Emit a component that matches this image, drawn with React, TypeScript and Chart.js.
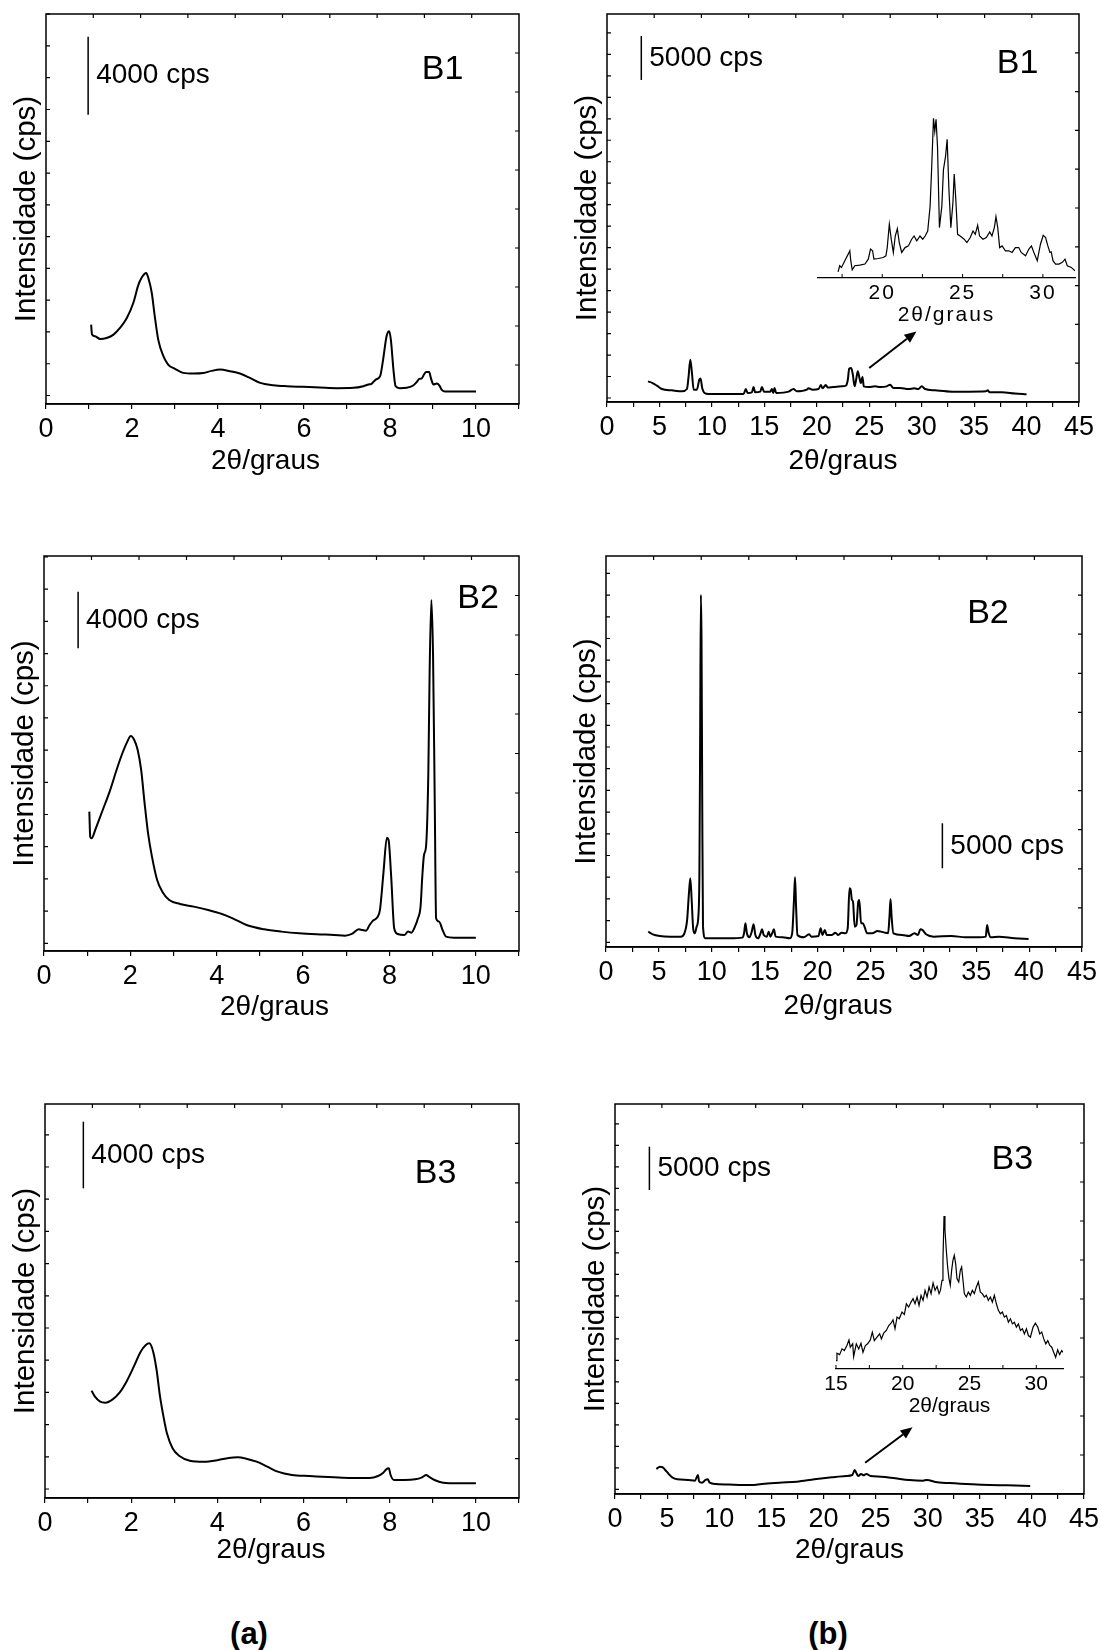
import React, { useEffect, useRef } from "react";
import { Chart, registerables } from "chart.js";

Chart.register(...registerables);

const FONT = '"Liberation Sans", Arial, Helvetica, sans-serif';

// ---------------- axis tick values ----------------
const A_X_MAJOR = [0, 2, 4, 6, 8, 10];
const A_X_MINOR = [1, 3, 5, 7, 9, 11];
const B_X_MAJOR = [0, 5, 10, 15, 20, 25, 30, 35, 40, 45];
const B_X_MINOR = [2.5, 7.5, 12.5, 17.5, 22.5, 27.5, 32.5, 37.5, 42.5];
const INSET1_MAJOR = [20, 25, 30];
const INSET3_MAJOR = [15, 20, 25, 30];
const INSET_MINOR = [17.5, 22.5, 27.5];

const X_TITLE = "2θ/graus";
const Y_TITLE = "Intensidade (cps)";

// ---------------- series (2θ in degrees, intensity in cps) ----------------
const A1_X = [1.05,1.07,1.14,1.26,1.41,1.57,1.72,1.88,2.03,2.15,2.22,2.33,2.38,2.46,2.53,2.61,2.73,2.84,3.0,3.19,3.43,3.66,3.85,4.05,4.28,4.51,4.74,4.98,5.29,5.6,5.98,6.37,6.76,7.15,7.38,7.5,7.57,7.67,7.77,7.84,7.92,7.98,8.02,8.08,8.13,8.23,8.39,8.54,8.62,8.68,8.74,8.79,8.84,8.91,8.95,9.01,9.09,9.15,9.2,9.28,9.63,10.0];
const A1_Y = [3627,3117,3031,2895,2946,3117,3457,3968,4734,5671,6012,6267,6012,5245,4053,2861,2010,1584,1362,1158,1124,1150,1260,1328,1243,1124,903,647,528,477,443,409,375,392,477,562,600,817,988,1839,3031,3287,2861,1328,477,375,392,511,681,851,880,1073,1209,1209,903,562,613,511,307,204,204,204];

const B1_X = [3.91,4.35,4.76,5.24,6.19,7.15,7.62,7.78,7.94,8.1,8.26,8.57,8.8,8.92,9.08,9.3,9.69,11.27,13.02,13.24,13.4,13.81,13.97,14.13,14.61,14.77,14.96,15.56,15.72,15.85,15.97,16.13,17.31,17.78,18.1,19.05,19.21,19.6,20.17,20.39,20.55,20.86,21.05,21.59,22.39,22.77,22.96,23.09,23.28,23.44,23.6,23.75,23.91,24.07,24.2,24.36,24.48,24.93,25.56,26.04,26.67,26.99,27.31,27.95,28.74,29.31,29.69,30.01,30.33,31.28,32.87,34.46,36.14,36.3,36.46,37.63,38.9,40.0];
const B1_Y = [1890,1700,1400,1020,870,760,1020,2460,4355,2840,950,950,2080,2230,1100,570,455,455,455,1020,570,640,1250,640,720,1250,720,720,1020,570,1135,570,720,1020,760,950,1100,950,1020,1480,1100,1480,1180,1250,1325,1400,2080,3330,3410,2650,1325,2080,3030,2270,1700,2390,1325,1250,1325,1250,1325,1515,1140,1140,1020,1100,1020,1325,1020,870,720,720,760,870,650,650,500,417];

const B1_INSET_X = [17.25,17.35,17.46,17.67,17.88,17.98,18.04,18.13,18.29,18.6,18.92,19.13,19.27,19.4,19.48,19.75,20.06,20.23,20.31,20.44,20.56,20.69,20.81,20.94,21.06,21.21,21.42,21.63,21.83,21.98,22.15,22.35,22.52,22.67,22.83,22.98,23.08,23.19,23.27,23.35,23.44,23.56,23.71,23.81,23.94,24.04,24.15,24.27,24.4,24.48,24.58,24.69,24.85,25.1,25.27,25.48,25.65,25.79,25.94,26.06,26.27,26.48,26.69,26.83,26.98,27.08,27.19,27.31,27.46,27.67,27.88,28.08,28.29,28.5,28.65,28.92,29.13,29.29,29.44,29.65,29.85,30.02,30.17,30.31,30.44,30.52,30.63,30.79,31.0,31.21,31.38,31.52,31.77,32.0];
const B1_INSET_Y = [3.7,7.3,6.3,10.3,14.2,16.2,10.3,4.9,7.3,7.7,8.3,11.2,17.2,16.2,11.2,11.6,12.2,13.2,18.1,32.0,23.1,15.2,25.0,29.4,21.1,15.2,18.1,19.1,23.1,25.0,22.1,25.0,23.1,25.0,28.0,42.8,66.5,95.1,87.2,94.5,78.3,30.0,42.8,64.5,72.4,82.6,52.7,30.0,44.8,61.9,46.7,26.0,25.0,23.1,21.1,24.1,28.0,26.0,31.4,25.0,23.1,24.1,27.4,25.0,30.0,36.5,30.0,18.1,19.1,16.2,16.2,15.2,18.1,18.1,15.2,13.2,17.2,19.1,15.2,10.3,20.1,25.4,24.1,19.1,15.2,15.6,10.3,8.3,8.3,9.3,11.2,7.3,6.3,4.3];

const A2_X = [1.05,1.07,1.1,1.2,1.36,1.52,1.68,1.8,1.93,2.01,2.09,2.17,2.25,2.33,2.41,2.5,2.62,2.74,2.9,3.15,3.47,3.8,4.12,4.37,4.69,5.1,5.5,5.91,6.32,6.72,6.97,7.13,7.29,7.37,7.46,7.54,7.62,7.72,7.78,7.86,7.94,7.98,8.04,8.11,8.19,8.35,8.43,8.51,8.59,8.66,8.72,8.76,8.8,8.85,8.9,8.93,8.97,9.01,9.05,9.08,9.15,9.23,9.31,9.49,10.0];
const A2_Y = [9294,7530,7412,8118,9412,10706,12236,13294,14236,14636,14353,13647,12236,9883,7765,6118,4471,3647,3059,2777,2588,2353,2071,1765,1294,988,824,706,635,588,541,659,988,941,894,1294,1600,1835,2353,4941,7459,7294,4706,1059,659,588,824,753,1176,1765,2588,4706,6235,6941,12000,19059,24236,20236,9647,1765,1529,941,471,400,400];

const B2_X = [3.99,4.42,5.08,6.08,7.07,7.41,7.67,7.84,7.97,8.1,8.24,8.4,8.57,8.73,8.83,8.9,8.97,9.03,9.1,9.17,9.4,10.4,11.72,12.89,13.05,13.18,13.32,13.55,13.78,13.95,14.12,14.38,14.61,14.75,14.91,15.21,15.38,15.54,15.71,15.87,16.04,16.71,17.37,17.6,17.77,17.87,17.97,18.1,18.7,19.2,19.43,20.09,20.29,20.46,20.69,20.86,21.36,21.69,21.95,22.28,22.62,22.85,23.02,23.12,23.25,23.35,23.51,23.68,23.85,23.95,24.11,24.28,24.44,24.68,25.17,25.67,26.0,26.34,26.67,26.8,26.9,27.0,27.17,28.0,28.66,29.16,29.49,29.72,29.92,30.26,30.99,32.65,33.98,35.3,35.9,36.03,36.17,36.37,37.13,38.63,39.95];
const B2_Y = [1185,889,704,630,630,1000,2482,5444,7111,4704,1556,1000,1741,2852,7667,22480,38600,33600,15075,1741,444,444,444,519,1000,2111,1000,556,1185,2000,815,444,1000,1444,815,630,1185,630,1000,1444,630,556,444,1000,4704,7222,3963,815,556,889,630,704,1556,815,1370,815,815,1074,815,1074,1000,1556,6000,5889,4704,4519,1741,1926,4519,4704,2111,2111,1741,1000,1000,1259,1185,1074,1000,2852,4815,2852,1000,815,704,1000,815,1444,1370,889,630,704,556,556,630,1926,1074,556,630,444,370];

const A3_X = [1.08,1.16,1.28,1.4,1.57,1.73,1.89,2.06,2.22,2.34,2.42,2.51,2.59,2.67,2.75,2.83,2.96,3.12,3.36,3.69,4.02,4.26,4.47,4.67,4.91,5.16,5.4,5.73,6.14,6.71,7.12,7.53,7.73,7.85,7.92,7.98,8.02,8.1,8.34,8.59,8.75,8.85,8.91,9.04,9.24,9.57,10.0];
const A3_Y = [5900,5540,5240,5180,5380,5780,6440,7340,8240,8640,8740,8240,7140,5540,4340,3340,2440,1980,1700,1640,1740,1860,1900,1820,1640,1340,1040,840,780,700,660,660,780,980,1180,1240,840,540,540,580,700,840,740,540,380,340,340];

const B3_X = [3.97,4.31,4.58,4.82,5.15,5.49,5.99,7.0,7.68,7.95,8.08,8.35,8.69,8.89,9.09,9.7,11.38,13.07,14.08,15.76,17.45,19.13,20.81,22.16,22.77,23.0,23.17,23.34,23.61,23.85,24.12,24.52,25.53,26.88,28.22,29.57,29.9,30.92,32.6,34.29,35.97,37.66,39.84];
const B3_Y = [2347,2616,2539,2231,1770,1385,1154,1077,1000,1654,885,769,1077,1154,769,615,539,500,615,769,885,1154,1385,1539,1654,2231,1847,1539,1770,1616,1770,1539,1462,1270,1077,1000,1077,808,692,577,500,462,385];

const B3_INSET_X = [15.0,15.07,15.27,15.45,15.62,15.82,15.97,16.07,16.25,16.32,16.52,16.7,16.87,17.02,17.2,17.37,17.57,17.72,17.87,18.07,18.27,18.4,18.57,18.77,18.95,19.12,19.27,19.42,19.57,19.74,19.94,20.12,20.27,20.44,20.62,20.77,20.92,21.07,21.22,21.37,21.52,21.67,21.82,21.97,22.12,22.27,22.42,22.57,22.72,22.82,22.94,23.01,23.09,23.16,23.26,23.36,23.46,23.56,23.66,23.76,23.86,23.96,24.06,24.19,24.31,24.41,24.51,24.61,24.76,24.91,25.06,25.21,25.36,25.51,25.66,25.81,25.96,26.11,26.26,26.41,26.56,26.71,26.86,27.01,27.16,27.31,27.46,27.61,27.76,27.91,28.06,28.21,28.36,28.51,28.66,28.81,28.96,29.11,29.26,29.41,29.56,29.76,29.93,30.11,30.26,30.41,30.56,30.71,30.86,31.01,31.16,31.3,31.45,31.6,31.75,31.9,32.0];
const B3_INSET_Y = [5.0,9.3,8.5,11.9,10.9,13.9,17.2,12.9,14.9,7.3,14.9,11.9,15.2,9.9,13.9,14.9,17.2,21.8,16.8,18.8,20.8,17.8,21.2,22.8,25.7,27.1,29.1,23.8,30.7,29.7,33.7,32.3,38.6,36.6,39.6,41.6,38.6,42.6,37.6,43.6,40.6,46.5,42.6,48.5,44.6,50.9,46.5,48.9,44.6,46.5,52.5,64.4,90.5,82.2,70.3,60.4,53.5,49.5,58.4,64.4,67.3,62.4,53.5,51.5,58.4,60.4,52.5,44.6,42.6,45.5,43.6,46.5,44.6,48.5,51.5,45.5,44.6,42.6,43.6,40.6,42.6,39.6,43.6,38.6,34.7,32.7,33.7,30.7,31.7,27.7,29.7,26.7,27.7,24.8,26.7,22.8,23.8,20.8,23.8,19.8,18.8,24.8,27.1,24.8,20.8,21.8,17.8,14.9,16.8,13.9,12.9,9.9,6.9,11.3,8.5,10.9,9.9];

// ---------------- panel layout ----------------
type Ann = { x: number; y0: number; y1: number; text: string };
type Tag = { x: number; y: number; text: string };
type Arrow = { x0: number; y0: number; x1: number; y1: number };
type PanelDef = {
  key: string; L: number; T: number; R: number; B: number;
  xMax: number; major: number[]; minor: number[];
  yMin: number; yMax: number; leftStep: number;
  xs: number[]; ys: number[];
  bar: Ann; tag: Tag; arrow?: Arrow;
  titleDx: number; titleDy: number;
};

const PANELS: PanelDef[] = [
  { key: "a1", L: 46, T: 14, R: 519, B: 404, xMax: 11, major: A_X_MAJOR, minor: A_X_MINOR,
    yMin: -434, yMax: 19520, leftStep: 1626, xs: A1_X, ys: A1_Y,
    bar: { x: 0.98, y0: 14360, y1: 18360, text: "4000 cps" }, tag: { x: 8.74, y: 16659, text: "B1" },
    titleDx: -17, titleDy: 60 },
  { key: "b1", L: 607, T: 14, R: 1079, B: 402, xMax: 45, major: B_X_MAJOR, minor: B_X_MINOR,
    yMin: -455, yMax: 43660, leftStep: 2442, xs: B1_X, ys: B1_Y,
    bar: { x: 3.27, y0: 36160, y1: 41160, text: "5000 cps" }, tag: { x: 37.16, y: 38056, text: "B1" },
    arrow: { x0: 25, y0: 3410, x1: 29.5, y1: 7570 }, titleDx: 0, titleDy: 62 },
  { key: "a2", L: 44, T: 556, R: 519, B: 951, xMax: 11, major: A_X_MAJOR, minor: A_X_MINOR,
    yMin: -544, yMax: 27343, leftStep: 2273, xs: A2_X, ys: A2_Y,
    bar: { x: 0.79, y0: 20827, y1: 24823, text: "4000 cps" }, tag: { x: 9.57, y: 24357, text: "B2" },
    titleDx: -7, titleDy: 59 },
  { key: "b2", L: 606, T: 556, R: 1082, B: 947, xMax: 45, major: B_X_MAJOR, minor: B_X_MINOR,
    yMin: -522, yMax: 42918, leftStep: 2411, xs: B2_X, ys: B2_Y,
    bar: { x: 31.8, y0: 8221, y1: 13221, text: "5000 cps" }, tag: { x: 34.14, y: 36552, text: "B2" },
    titleDx: -6, titleDy: 62 },
  { key: "a3", L: 45, T: 1104, R: 519, B: 1498, xMax: 11, major: A_X_MAJOR, minor: A_X_MINOR,
    yMin: -540, yMax: 23100, leftStep: 1932, xs: A3_X, ys: A3_Y,
    bar: { x: 0.89, y0: 18042, y1: 22038, text: "4000 cps" }, tag: { x: 8.58, y: 18942, text: "B3" },
    titleDx: -11, titleDy: 55 },
  { key: "b3", L: 615, T: 1104, R: 1084, B: 1494, xMax: 45, major: B_X_MAJOR, minor: B_X_MINOR,
    yMin: -542, yMax: 44464, leftStep: 2481, xs: B3_X, ys: B3_Y,
    bar: { x: 3.3, y0: 34539, y1: 39536, text: "5000 cps" }, tag: { x: 36.12, y: 38001, text: "B3" },
    arrow: { x0: 24.0, y0: 3070, x1: 28.55, y1: 7155 }, titleDx: 0, titleDy: 59 },
];

type InsetDef = {
  key: string; L: number; R: number; axisY: number; top: number;
  xMin: number; xMax: number; major: number[]; minor: number[];
  xs: number[]; ys: number[]; spacing: number;
};

const INSETS: InsetDef[] = [
  { key: "i1", L: 818, R: 1075, axisY: 278, top: 110, xMin: 16, xMax: 32, major: INSET1_MAJOR, minor: INSET_MINOR,
    xs: B1_INSET_X, ys: B1_INSET_Y, spacing: 2 },
  { key: "i3", L: 836, R: 1063, axisY: 1369, top: 1200, xMin: 15, xMax: 32, major: INSET3_MAJOR, minor: INSET_MINOR,
    xs: B3_INSET_X, ys: B3_INSET_Y, spacing: 0 },
];

const PAD_L = 40, PAD_T = 10, PAD_R = 26, PAD_B = 80;

function makeFramePlugin(p: PanelDef) {
  return {
    id: "frame_" + p.key,
    afterDraw(chart: any) {
      const { ctx, chartArea: a } = chart;
      const xs = chart.scales.x, ys = chart.scales.y;
      ctx.save();
      ctx.strokeStyle = "#000";
      ctx.fillStyle = "#000";
      ctx.lineWidth = 1.5;
      ctx.strokeRect(a.left, a.top, a.right - a.left, a.bottom - a.top);
      ctx.lineWidth = 1.2;
      ctx.beginPath();
      for (let v = 0; v < p.yMax; v += p.leftStep) {
        const py = ys.getPixelForValue(v);
        ctx.moveTo(a.left, py); ctx.lineTo(a.left + 4, py);
      }
      for (let k = 1; k < 10; k++) {
        const py = ys.getPixelForValue(p.yMin + (k * (p.yMax - p.yMin)) / 10);
        ctx.moveTo(a.right, py); ctx.lineTo(a.right - 4, py);
        const px = xs.getPixelForValue((k * p.xMax) / 10);
        ctx.moveTo(px, a.top); ctx.lineTo(px, a.top + 4);
      }
      ctx.stroke();
      // x-axis title
      ctx.textAlign = "center";
      ctx.textBaseline = "middle";
      ctx.font = `28px ${FONT}`;
      ctx.fillText(X_TITLE, (a.left + a.right) / 2 + p.titleDx, a.bottom + p.titleDy - 2.5);
      // scale bar
      const bx = xs.getPixelForValue(p.bar.x);
      const by0 = ys.getPixelForValue(p.bar.y0), by1 = ys.getPixelForValue(p.bar.y1);
      ctx.lineWidth = 1.5;
      ctx.beginPath(); ctx.moveTo(bx, by0); ctx.lineTo(bx, by1); ctx.stroke();
      ctx.textAlign = "left";
      ctx.font = `28px ${FONT}`;
      ctx.fillText(p.bar.text, bx + 8, (by0 + by1) / 2);
      ctx.font = `34px ${FONT}`;
      ctx.fillText(p.tag.text, xs.getPixelForValue(p.tag.x), ys.getPixelForValue(p.tag.y));
      // arrow
      if (p.arrow) {
        const x0 = xs.getPixelForValue(p.arrow.x0), y0 = ys.getPixelForValue(p.arrow.y0);
        const x1 = xs.getPixelForValue(p.arrow.x1), y1 = ys.getPixelForValue(p.arrow.y1);
        const ang = Math.atan2(y1 - y0, x1 - x0);
        const head = 12, hw = 5;
        const bxh = x1 - head * Math.cos(ang), byh = y1 - head * Math.sin(ang);
        ctx.lineWidth = 2;
        ctx.beginPath(); ctx.moveTo(x0, y0); ctx.lineTo(bxh, byh); ctx.stroke();
        ctx.beginPath();
        ctx.moveTo(x1, y1);
        ctx.lineTo(bxh + hw * Math.sin(ang), byh - hw * Math.cos(ang));
        ctx.lineTo(bxh - hw * Math.sin(ang), byh + hw * Math.cos(ang));
        ctx.closePath(); ctx.fill();
      }
      ctx.restore();
    },
  };
}

function MainPanel({ p }: { p: PanelDef }) {
  const ref = useRef<HTMLCanvasElement | null>(null);
  const left = Math.round(p.L) - PAD_L;
  const top = Math.round(p.T) - PAD_T;
  const width = Math.round(p.R) + PAD_R - left;
  const height = Math.round(p.B) + PAD_B - top;
  useEffect(() => {
    const canvas = ref.current;
    if (!canvas) return;
    const allTicks = [...p.major, ...p.minor].sort((a, b) => a - b);
    const chart = new Chart(canvas, {
      type: "line",
      data: {
        datasets: [{
          data: p.xs.map((x, i) => ({ x, y: p.ys[i] })),
          borderColor: "#000", borderWidth: 2, pointRadius: 0, fill: false,
          cubicInterpolationMode: "monotone", tension: 0.3,
        }],
      },
      options: {
        responsive: false, animation: false, maintainAspectRatio: false,
        layout: { padding: { top: PAD_T, right: PAD_R, left: 0, bottom: 0 } },
        plugins: { legend: { display: false }, tooltip: { enabled: false } },
        scales: {
          x: {
            type: "linear", min: 0, max: p.xMax,
            afterBuildTicks: (s: any) => { s.ticks = allTicks.map((v) => ({ value: v })); },
            afterFit: (s: any) => { s.height = PAD_B; },
            ticks: {
              autoSkip: false, maxRotation: 0, minRotation: 0, padding: 4, color: "#000",
              font: { family: FONT, size: 27 },
              callback: (v: any) => (p.major.includes(Number(v)) ? String(v) : ""),
            },
            grid: { display: true, drawOnChartArea: false, drawTicks: true, tickLength: 5, color: "#000", lineWidth: 1.2 },
            border: { display: true, color: "#000", width: 1.5 },
            title: { display: false, text: X_TITLE },
          },
          y: {
            type: "linear", min: p.yMin, max: p.yMax,
            ticks: { display: false },
            grid: { display: false },
            border: { display: false },
            afterFit: (s: any) => { s.width = PAD_L; },
            title: { display: true, text: Y_TITLE, color: "#000", font: { family: FONT, size: 29.5 }, padding: { top: 3, bottom: 0 } },
          },
        },
      } as any,
      plugins: [makeFramePlugin(p)],
    });
    return () => chart.destroy();
  }, [p]);
  return (
    <canvas ref={ref} width={width} height={height}
      style={{ position: "absolute", left, top, width, height }} />
  );
}

function InsetPanel({ q }: { q: InsetDef }) {
  const ref = useRef<HTMLCanvasElement | null>(null);
  const padL = 22, padR = 22, padT = 5, padB = 52;
  const left = Math.round(q.L) - padL;
  const top = Math.round(q.top) - padT;
  const width = Math.round(q.R) + padR - left;
  const height = Math.round(q.axisY) + padB - top;
  useEffect(() => {
    const canvas = ref.current;
    if (!canvas) return;
    const chart = new Chart(canvas, {
      type: "line",
      data: {
        datasets: [{
          data: q.xs.map((x, i) => ({ x, y: q.ys[i] })),
          borderColor: "#000", borderWidth: 1.2, pointRadius: 0, fill: false, tension: 0,
        }],
      },
      options: {
        responsive: false, animation: false, maintainAspectRatio: false,
        layout: { padding: { top: padT, right: padR, left: padL, bottom: 0 } },
        plugins: { legend: { display: false }, tooltip: { enabled: false } },
        scales: {
          x: {
            type: "linear", min: q.xMin, max: q.xMax,
            afterBuildTicks: (s: any) => { s.ticks = q.major.map((v) => ({ value: v })); },
            afterFit: (s: any) => { s.height = padB; },
            ticks: { autoSkip: false, maxRotation: 0, padding: 3, color: "#000", font: { family: FONT, size: 21 } },
            grid: { display: false, drawTicks: false },
            border: { display: true, color: "#000", width: 1.2 },
            title: { display: true, text: X_TITLE, color: "#000", font: { family: FONT, size: 21 }, padding: { top: 0, bottom: 2 } },
          },
          y: { display: false, min: 0, max: 100 },
        },
      } as any,
      plugins: [{
        id: "inset_" + q.key,
        beforeDraw(chart: any) {
          try { chart.ctx.letterSpacing = q.spacing + "px"; } catch (e) { /* ignore */ }
        },
        afterDraw(chart: any) {
          const { ctx, chartArea: a } = chart;
          const xs = chart.scales.x;
          ctx.save();
          ctx.strokeStyle = "#000";
          ctx.lineWidth = 1;
          ctx.beginPath();
          [...q.major, ...q.minor].forEach((v) => {
            const px = xs.getPixelForValue(v);
            ctx.moveTo(px, a.bottom); ctx.lineTo(px, a.bottom - 4);
          });
          ctx.stroke();
          ctx.restore();
        },
      }],
    });
    return () => chart.destroy();
  }, [q]);
  return (
    <canvas ref={ref} width={width} height={height}
      style={{ position: "absolute", left, top, width, height }} />
  );
}

const CAPTIONS = [
  { text: "(a)", x: 249, y: 1633 },
  { text: "(b)", x: 828, y: 1633 },
];

export default function App() {
  return (
    <div style={{ position: "absolute", left: 0, top: 0, width: 1102, height: 1650, background: "#fff", overflow: "hidden" }}>
      {PANELS.map((p) => <MainPanel key={p.key} p={p} />)}
      {INSETS.map((q) => <InsetPanel key={q.key} q={q} />)}
      {CAPTIONS.map((c) => (
        <div key={c.text} style={{
          position: "absolute", left: c.x, top: c.y, transform: "translate(-50%, -50%)",
          font: `bold 31px ${FONT}`, lineHeight: 1, color: "#000", whiteSpace: "nowrap",
        }}>{c.text}</div>
      ))}
    </div>
  );
}
